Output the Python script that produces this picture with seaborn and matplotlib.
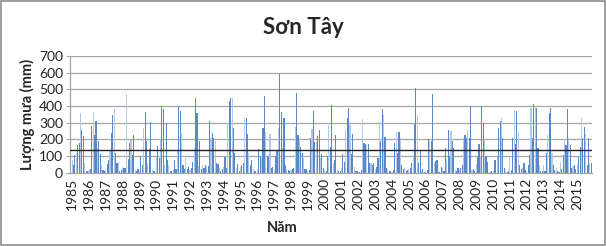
import numpy as np
import pandas as pd
import matplotlib
matplotlib.use("Agg")
import matplotlib.pyplot as plt
import seaborn as sns

# ---------------- data (monthly rainfall, mm, Jan..Dec) ----------------
years = list(range(1985, 2016))
r1985 = [35, 75, 45, 105, 115, 165, 180, 355, 255, 220, 60, 10]
r1986 = [10, 15, 20, 280, 365, 225, 310, 150, 190, 110, 45, 15]
r1987 = [10, 15, 50, 75, 135, 235, 345, 380, 115, 60, 65, 10]
r1988 = [15, 35, 30, 25, 470, 80, 175, 195, 105, 225, 15, 10]
r1989 = [20, 10, 100, 45, 270, 365, 190, 60, 140, 305, 15, 10]
r1990 = [10, 95, 160, 85, 200, 400, 380, 45, 300, 75, 45, 10]
r1991 = [10, 20, 75, 20, 135, 400, 370, 235, 45, 20, 85, 20]
r1992 = [35, 15, 30, 65, 145, 450, 360, 40, 190, 20, 45, 30]
r1993 = [45, 40, 40, 310, 210, 240, 210, 190, 55, 50, 25, 10]
r1994 = [20, 35, 95, 30, 300, 430, 450, 450, 270, 115, 30, 50]
r1995 = [10, 35, 45, 55, 335, 330, 230, 115, 45, 75, 20, 10]
r1996 = [10, 20, 140, 100, 100, 265, 460, 245, 100, 100, 230, 25]
r1997 = [35, 15, 100, 130, 265, 590, 365, 145, 325, 45, 20, 15]
r1998 = [10, 15, 20, 25, 275, 475, 225, 205, 155, 115, 85, 20]
r1999 = [20, 10, 15, 210, 260, 370, 185, 190, 220, 255, 85, 110]
r2000 = [25, 15, 10, 100, 285, 155, 405, 60, 75, 225, 15, 10]
r2001 = [10, 30, 110, 65, 255, 325, 385, 285, 110, 230, 35, 10]
r2002 = [10, 5, 5, 15, 320, 180, 170, 165, 170, 55, 55, 45]
r2003 = [60, 20, 35, 85, 305, 190, 380, 345, 215, 30, 15, 10]
r2004 = [10, 5, 15, 180, 245, 115, 245, 210, 45, 20, 30, 10]
r2005 = [15, 20, 30, 60, 90, 290, 505, 345, 60, 135, 10, 20]
r2006 = [5, 10, 15, 200, 190, 190, 470, 60, 70, 75, 10, 5]
r2007 = [35, 30, 10, 150, 80, 255, 100, 250, 190, 150, 15, 10]
r2008 = [25, 15, 30, 45, 210, 225, 205, 255, 210, 400, 15, 20]
r2009 = [10, 50, 95, 170, 100, 400, 295, 200, 100, 65, 5, 5]
r2010 = [10, 10, 75, 75, 95, 270, 310, 330, 205, 25, 10, 5]
r2011 = [10, 95, 15, 205, 375, 170, 370, 240, 45, 20, 30, 55]
r2012 = [15, 10, 45, 105, 390, 205, 410, 400, 385, 150, 45, 10]
r2013 = [10, 45, 10, 115, 225, 355, 385, 115, 45, 15, 25, 10]
r2014 = [5, 65, 20, 105, 200, 165, 380, 205, 165, 25, 40, 45]
r2015 = [20, 45, 95, 155, 330, 205, 275, 230, 45, 210, 55, 60]

mean_line = 135  # horizontal reference line

rain = (r1985 + r1986 + r1987 + r1988 + r1989 + r1990 + r1991 + r1992 + r1993 +
        r1994 + r1995 + r1996 + r1997 + r1998 + r1999 + r2000 + r2001 + r2002 +
        r2003 + r2004 + r2005 + r2006 + r2007 + r2008 + r2009 + r2010 + r2011 +
        r2012 + r2013 + r2014 + r2015)

df = pd.DataFrame({
    "idx": np.arange(len(rain)),
    "rain": rain,
})
df["shade"] = np.where(df["idx"] % 3 == 1, "light", "dark")

# ---------------- plot ----------------
sns.set_style("white")
plt.rcParams["font.family"] = ["Lato", "DejaVu Sans"]

fig = plt.figure(figsize=(6.06, 2.46), dpi=100)
fig.patch.set_facecolor("white")
ax = fig.add_axes([70 / 606, 1 - 172.5 / 246, (592 - 70) / 606, (172.5 - 56) / 246])

for v in range(100, 701, 100):
    ax.axhline(v, color="#a6a6a6", lw=0.9, zorder=0)

sns.barplot(data=df, x="idx", y="rain", hue="shade",
            palette={"light": "#b4c9e7", "dark": "#5b89c6"},
            dodge=False, width=0.8, legend=False, ax=ax, zorder=2,
            linewidth=0, saturation=1)

ax.axhline(mean_line, color="#222222", lw=1.0, zorder=5)

ax.set_xlim(-0.5, len(rain) - 0.5)
ax.set_ylim(0, 700)
ax.set_yticks(range(0, 701, 100))
ax.set_yticklabels([str(v) for v in range(0, 701, 100)], fontsize=10)
ax.set_xticks([12 * k + 1 for k in range(len(years))])
ax.set_xticklabels([str(y) for y in years], rotation=90, fontsize=10)
ax.tick_params(axis="x", length=0, pad=4, colors="#222222")
ax.tick_params(axis="y", length=3, color="#a6a6a6", pad=2, left=True, labelcolor="#222222")
ax.set_xlabel("")
ax.set_ylabel("Lượng mưa (mm)", fontsize=10.5, fontweight="bold", labelpad=3)

for s in ["top", "right"]:
    ax.spines[s].set_visible(False)
for s in ["left", "bottom"]:
    ax.spines[s].set_color("#a6a6a6")
    ax.spines[s].set_linewidth(0.9)

fig.text(0.5, 1 - 28 / 246, "Sơn Tây", ha="center", va="center",
         fontsize=16, fontweight="bold")
fig.text(282 / 606, 1 - 228 / 246, "Năm", ha="center", va="center",
         fontsize=10.5, fontweight="bold")

border = plt.Rectangle((0.002, 0.004), 0.996, 0.992, transform=fig.transFigure,
                       fill=False, edgecolor="#8c8c8c", lw=1.2)
fig.patches.append(border)

fig.savefig("out.png", dpi=100)
